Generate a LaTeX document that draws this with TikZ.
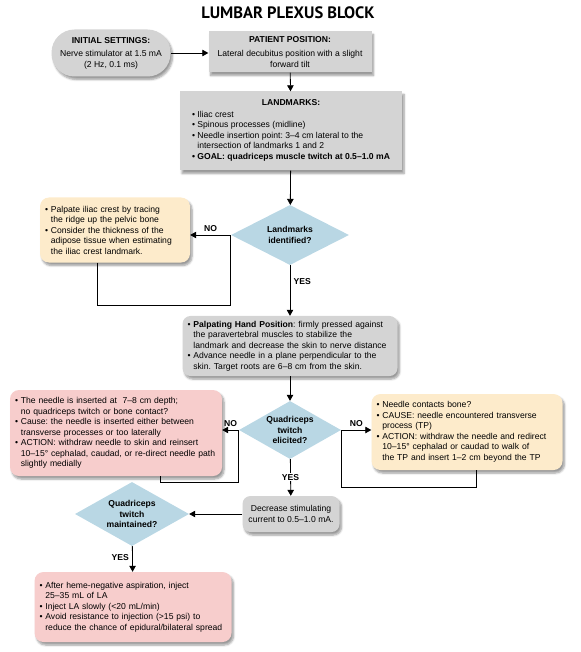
\documentclass[tikz,border=0pt]{standalone}
\usepackage{fontspec}
\setmainfont{Liberation Sans}
\newfontfamily\titlefont{PT Sans}
\usepackage{tikz}
\usetikzlibrary{arrows.meta, positioning, shapes.geometric, shadows.blur}
\frenchspacing

\definecolor{boxgray}{HTML}{D4D4D4}
\definecolor{boxyellow}{HTML}{FDEBCB}
\definecolor{boxpink}{HTML}{F7CDCC}
\definecolor{decblue}{HTML}{B9D7E4}

\newcommand{\bl}{\textbullet\ }
\newcommand{\ind}{\hphantom{\textbullet\ }}

\begin{document}
\begin{tikzpicture}[x=1pt,y=-1pt]
    \tikzstyle{every node} = [font=\fontsize{8.6}{10.5}\selectfont]
    \tikzstyle{shade} = [blur shadow={shadow xshift=2pt, shadow yshift=-3pt, shadow blur steps=6}]
    \tikzstyle{graybox} = [rectangle, fill=boxgray, shade, inner sep=3pt, align=center]
    \tikzstyle{notebox} = [rectangle, rounded corners=9pt, shade, inner sep=5pt, align=left]
    \tikzstyle{decision} = [diamond, fill=decblue, inner sep=-8pt, align=center, font=\fontsize{8.6}{10.5}\selectfont\bfseries]
    \tikzstyle{answer} = [font=\fontsize{8.6}{10.5}\selectfont\bfseries]
    \tikzstyle{arr} = [-{Triangle[length=6pt,width=6.5pt]}, line width=0.8pt]
    \tikzstyle{back} = [line width=0.8pt]
    \useasboundingbox (0,0) rectangle (580,652);

    % place nodes
    \node[font=\titlefont\bfseries\fontsize{16.5}{18}\selectfont] (title) at (288,13) {LUMBAR PLEXUS BLOCK};

    \node[graybox, rounded corners=23pt, minimum width=119pt, minimum height=47pt] (init) at (111,53)
        {\textbf{INITIAL SETTINGS:}\\[3pt]Nerve stimulator at 1.5 mA\\(2 Hz, 0.1 ms)};
    \node[graybox, minimum width=163pt, minimum height=41pt] (patient) at (290,52)
        {\textbf{PATIENT POSITION:}\\[4pt]Lateral decubitus position with a slight\\forward tilt};
    \node[graybox, minimum width=222pt, minimum height=79pt] (land) at (291,131)
        {\textbf{LANDMARKS:}\\[3pt]\begin{tabular}{@{}l@{}}
        \bl Iliac crest\\
        \bl Spinous processes (midline)\\
        \bl Needle insertion point: 3--4 cm lateral to the\\
        \ind intersection of landmarks 1 and 2\\
        \textbf{\bl GOAL: quadriceps muscle twitch at 0.5--1.0 mA}
        \end{tabular}};

    \node[decision, minimum width=118pt, minimum height=60pt] (dia1) at (290,235) {Landmarks\\identified?};
    \node[notebox, fill=boxyellow, text width=140pt, minimum height=65pt] (palpate) at (115,230)
        {\bl Palpate iliac crest by tracing\\
        \ind the ridge up the pelvic bone\\
        \bl Consider the thickness of the\\
        \ind adipose tissue when estimating\\
        \ind the iliac crest landmark.};

    \node[notebox, fill=boxgray, rounded corners=8pt, text width=205pt, minimum height=57pt] (hand) at (290,346)
        {\bl\textbf{Palpating Hand Position}: firmly pressed against\\
        \ind the paravertebral muscles to stabilize the\\
        \ind landmark and decrease the skin to nerve distance\\
        \bl Advance needle in a plane perpendicular to the\\
        \ind skin. Target roots are 6--8 cm from the skin.};

    \node[decision, minimum width=102pt, minimum height=58pt] (dia2) at (290,430) {Quadriceps\\twitch\\elicited?};
    \node[notebox, fill=boxpink, text width=202pt, minimum height=86pt] (reinsert) at (116,433)
        {\bl The needle is inserted at \ 7--8 cm depth;\\
        \ind no quadriceps twitch or bone contact?\\
        \bl Cause: the needle is inserted either between\\
        \ind transverse processes or too laterally\\
        \bl ACTION: withdraw needle to skin and reinsert\\
        \ind 10--15° cephalad, caudad, or re-direct needle path\\
        \ind slightly medially};
    \node[notebox, fill=boxyellow, text width=181pt, minimum height=76pt] (bone) at (467,432)
        {\bl Needle contacts bone?\\
        \bl CAUSE: needle encountered transverse\\
        \ind process (TP)\\
        \bl ACTION: withdraw the needle and redirect\\
        \ind 10--15° cephalad or caudad to walk of\\
        \ind the TP and insert 1--2 cm beyond the TP};

    \node[graybox, rounded corners=8pt, minimum width=97pt, minimum height=36pt] (current) at (291,514)
        {Decrease stimulating\\current to 0.5--1.0 mA.};
    \node[decision, minimum width=114pt, minimum height=64pt] (dia3) at (132,514) {Quadriceps\\twitch\\maintained?};
    \node[notebox, fill=boxpink, text width=187pt, minimum height=70pt] (inject) at (133,607)
        {\bl After heme-negative aspiration, inject\\
        \ind 25--35 mL of LA\\
        \bl Inject LA slowly (<20 mL/min)\\
        \bl Avoid resistance to injection (>15 psi) to\\
        \ind reduce the chance of epidural/bilateral spread};

    \coordinate (loop1) at (97,305);
    \coordinate (loop2) at (160,482);
    \coordinate (loop3) at (476,487);

    % Connections
    \draw[arr] (init.east) -- (init.east -| patient.west);
    \draw[arr] (patient) -- (land);
    \draw[arr] (land) -- (dia1);
    \draw[arr] (dia1.west) -- node[answer,above]{NO} (dia1.west -| palpate.east);
    \draw[back] (loop1 |- palpate.south) -- (loop1) -| (dia1.west);
    \draw[arr] (dia1) -- node[answer,right,pos=0.32]{YES} (hand);
    \draw[arr] (hand) -- (dia2);
    \draw[arr] (dia2.west) -- node[answer,above]{NO} (dia2.west -| reinsert.east);
    \draw[back] (loop2 |- reinsert.south) -- (loop2) -| (dia2.west);
    \draw[arr] (dia2.east) -- node[answer,above]{NO} (dia2.east -| bone.west);
    \draw[back] (loop3 |- bone.south) -- (loop3) -| (dia2.east);
    \draw[arr] (dia2) -- node[answer,fill=white,inner sep=1pt]{YES} (current);
    \draw[arr] (current) -- (dia3);
    \draw[arr] (dia3) -- node[answer,left,pos=0.46]{YES} (inject);

\end{tikzpicture}
\end{document}
